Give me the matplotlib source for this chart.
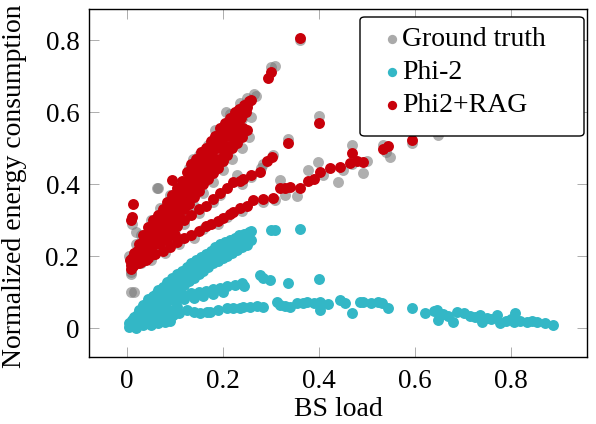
import numpy as np
import matplotlib
matplotlib.use("Agg")
import matplotlib.pyplot as plt
from matplotlib.patches import FancyBboxPatch

plt.rcParams['font.family'] = ['Liberation Serif', 'DejaVu Serif']

# ---- data (BS load, normalized energy) ----
ground_truth_pts = [
    # steep branch, upper side
    (0.005, 0.20), (0.02, 0.235), (0.03, 0.26), (0.05, 0.30), (0.0625, 0.389), (0.07, 0.335),
    (0.09, 0.37), (0.11, 0.40), (0.13, 0.445), (0.139, 0.47), (0.15, 0.48), (0.17, 0.51),
    (0.18, 0.523), (0.19, 0.54), (0.20, 0.56), (0.207, 0.60), (0.215, 0.595), (0.236, 0.625),
    (0.25, 0.64), (0.265, 0.65), (0.27, 0.645), (0.26, 0.588), (0.243, 0.542), (0.184, 0.551),
    # steep branch, lower side
    (0.008, 0.155), (0.01, 0.15), (0.03, 0.18), (0.05, 0.20), (0.07, 0.23), (0.085, 0.26),
    (0.10, 0.275), (0.12, 0.305), (0.14, 0.34), (0.16, 0.375), (0.18, 0.405), (0.20, 0.44),
    (0.22, 0.47), (0.24, 0.50), (0.255, 0.53),
    (0.04, 0.235), (0.08, 0.30), (0.12, 0.37), (0.16, 0.44), (0.20, 0.51), (0.24, 0.58),
    # outliers
    (0.008, 0.10), (0.016, 0.10), (0.02, 0.268), (0.012, 0.29), (0.066, 0.39),
    # middle branch
    (0.09, 0.26), (0.12, 0.29), (0.15, 0.32), (0.18, 0.35), (0.194, 0.37), (0.229, 0.426),
    (0.24, 0.40), (0.26, 0.42), (0.28, 0.445), (0.285, 0.455), (0.305, 0.48),
    # lower branch
    (0.05, 0.19), (0.08, 0.21), (0.11, 0.235), (0.14, 0.25), (0.16, 0.275), (0.19, 0.29),
    (0.21, 0.31), (0.24, 0.325), (0.285, 0.352), (0.31, 0.355), (0.33, 0.37), (0.354, 0.366),
    (0.319, 0.412), (0.378, 0.44), (0.399, 0.463), (0.41, 0.425), (0.441, 0.407), (0.45, 0.44),
    (0.469, 0.509), (0.47, 0.455), (0.493, 0.43), (0.50, 0.465), (0.535, 0.509), (0.549, 0.477),
    (0.54, 0.49), (0.595, 0.515), (0.649, 0.537),
    # isolated
    (0.337, 0.525), (0.40, 0.59), (0.362, 0.80), (0.30, 0.725), (0.31, 0.73),
]

phi2_pts = [
    # upper band
    (0.005, 0.015), (0.015, 0.03), (0.025, 0.05), (0.035, 0.065), (0.045, 0.08), (0.055, 0.09),
    (0.065, 0.105), (0.075, 0.115), (0.085, 0.128), (0.095, 0.14), (0.105, 0.15), (0.115, 0.16),
    (0.125, 0.17), (0.135, 0.18), (0.145, 0.19), (0.155, 0.198), (0.165, 0.207), (0.175, 0.215),
    (0.185, 0.225), (0.195, 0.233), (0.205, 0.24), (0.215, 0.245), (0.225, 0.252), (0.235, 0.258),
    (0.245, 0.262), (0.255, 0.266), (0.26, 0.27),
    (0.012, 0.022), (0.022, 0.038), (0.032, 0.055), (0.042, 0.07), (0.052, 0.082), (0.062, 0.095),
    (0.072, 0.107), (0.082, 0.118), (0.092, 0.13), (0.102, 0.14), (0.112, 0.15), (0.122, 0.16),
    (0.132, 0.17), (0.142, 0.18), (0.152, 0.19), (0.162, 0.198), (0.172, 0.207), (0.182, 0.215),
    (0.192, 0.222), (0.202, 0.23), (0.212, 0.235), (0.222, 0.24), (0.232, 0.245), (0.242, 0.25),
    (0.252, 0.255),
    (0.008, 0.01), (0.018, 0.022), (0.028, 0.035), (0.038, 0.048), (0.048, 0.06), (0.058, 0.07),
    (0.068, 0.082), (0.078, 0.092), (0.088, 0.103), (0.098, 0.115), (0.108, 0.125), (0.118, 0.135),
    (0.128, 0.145), (0.138, 0.155), (0.148, 0.165), (0.158, 0.173), (0.168, 0.182), (0.178, 0.19),
    (0.188, 0.198), (0.198, 0.205), (0.208, 0.212), (0.218, 0.218), (0.228, 0.225), (0.238, 0.232),
    (0.248, 0.24),
    (0.01, 0.005), (0.02, 0.012), (0.03, 0.02), (0.04, 0.028), (0.05, 0.036), (0.06, 0.045),
    (0.07, 0.055), (0.08, 0.068), (0.09, 0.08), (0.10, 0.095), (0.11, 0.108), (0.12, 0.12),
    (0.13, 0.13), (0.14, 0.14), (0.15, 0.15), (0.16, 0.16), (0.17, 0.17), (0.18, 0.18),
    (0.19, 0.188), (0.20, 0.195), (0.21, 0.202), (0.22, 0.21), (0.23, 0.217), (0.24, 0.225),
    (0.25, 0.232), (0.26, 0.245),
    (0.30, 0.273), (0.31, 0.273), (0.361, 0.275),
    # middle branch
    (0.06, 0.065), (0.075, 0.072), (0.09, 0.08), (0.105, 0.086), (0.12, 0.092), (0.135, 0.097),
    (0.15, 0.10), (0.165, 0.104), (0.18, 0.108), (0.195, 0.112), (0.21, 0.116), (0.225, 0.12),
    (0.24, 0.125), (0.245, 0.118), (0.10, 0.075), (0.12, 0.08), (0.14, 0.085), (0.16, 0.09),
    (0.18, 0.095), (0.20, 0.10), (0.278, 0.148), (0.285, 0.14), (0.299, 0.134), (0.337, 0.125),
    (0.401, 0.136),
    # flat branch
    (0.03, 0.015), (0.05, 0.02), (0.07, 0.027), (0.085, 0.03), (0.097, 0.037), (0.11, 0.042),
    (0.125, 0.051), (0.14, 0.045), (0.153, 0.042), (0.167, 0.046), (0.174, 0.045), (0.19, 0.05),
    (0.208, 0.056), (0.222, 0.055), (0.236, 0.056), (0.243, 0.06), (0.256, 0.058), (0.271, 0.062),
    (0.285, 0.06), (0.3125, 0.074), (0.319, 0.065), (0.33, 0.062), (0.34, 0.06), (0.354, 0.069),
    (0.368, 0.069), (0.375, 0.074), (0.39, 0.07), (0.403, 0.074), (0.403, 0.051), (0.42, 0.068),
    (0.444, 0.079), (0.455, 0.07), (0.469, 0.042), (0.486, 0.074), (0.493, 0.074), (0.51, 0.07),
    (0.524, 0.074), (0.531, 0.069), (0.545, 0.056), (0.594, 0.056), (0.621, 0.042), (0.64, 0.047),
    (0.646, 0.051), (0.649, 0.023), (0.66, 0.04), (0.67, 0.035), (0.68, 0.018), (0.6875, 0.046),
    (0.702, 0.042), (0.715, 0.035), (0.725, 0.03), (0.736, 0.037), (0.74, 0.018), (0.75, 0.028),
    (0.76, 0.025), (0.771, 0.037), (0.778, 0.014), (0.79, 0.02), (0.80, 0.025), (0.806, 0.018),
    (0.809, 0.042), (0.82, 0.02), (0.833, 0.018), (0.845, 0.02), (0.854, 0.018), (0.8715, 0.014),
    (0.889, 0.009),
    (0.005, 0.003), (0.02, 0.0), (0.035, 0.008), (0.05, 0.01), (0.065, 0.014), (0.08, 0.018),
    (0.09, 0.02), (0.04, 0.04), (0.06, 0.03), (0.075, 0.04), (0.09, 0.05), (0.105, 0.06),
]

phi2_rag_pts = [
    # steep branch
    (0.006, 0.19), (0.015, 0.21), (0.025, 0.235), (0.035, 0.26), (0.045, 0.28), (0.055, 0.30),
    (0.065, 0.315), (0.075, 0.33), (0.085, 0.35), (0.095, 0.37), (0.105, 0.39), (0.115, 0.41),
    (0.125, 0.435), (0.135, 0.455), (0.145, 0.47), (0.155, 0.49), (0.165, 0.50), (0.175, 0.52),
    (0.185, 0.535), (0.195, 0.555), (0.205, 0.57), (0.215, 0.585), (0.225, 0.60), (0.235, 0.61),
    (0.245, 0.62), (0.255, 0.63), (0.26, 0.635),
    (0.011, 0.195), (0.021, 0.215), (0.031, 0.237), (0.041, 0.257), (0.051, 0.277), (0.061, 0.293),
    (0.071, 0.31), (0.081, 0.327), (0.091, 0.345), (0.101, 0.362), (0.111, 0.382), (0.121, 0.40),
    (0.131, 0.42), (0.141, 0.438), (0.151, 0.458), (0.161, 0.472), (0.171, 0.49), (0.181, 0.507),
    (0.191, 0.525), (0.201, 0.542), (0.211, 0.56), (0.221, 0.575), (0.231, 0.59), (0.241, 0.605),
    (0.251, 0.615),
    (0.008, 0.175), (0.018, 0.19), (0.028, 0.21), (0.038, 0.23), (0.048, 0.25), (0.058, 0.265),
    (0.068, 0.285), (0.078, 0.30), (0.088, 0.32), (0.098, 0.335), (0.108, 0.355), (0.118, 0.375),
    (0.128, 0.39), (0.138, 0.41), (0.148, 0.43), (0.158, 0.445), (0.168, 0.465), (0.178, 0.48),
    (0.188, 0.50), (0.198, 0.515), (0.208, 0.535), (0.218, 0.55), (0.228, 0.565), (0.238, 0.585),
    (0.248, 0.60),
    (0.013, 0.172), (0.023, 0.19), (0.033, 0.205), (0.043, 0.222), (0.053, 0.24), (0.063, 0.255),
    (0.073, 0.27), (0.083, 0.285), (0.093, 0.30), (0.103, 0.317), (0.113, 0.335), (0.123, 0.352),
    (0.133, 0.37), (0.143, 0.39), (0.153, 0.405), (0.163, 0.425), (0.173, 0.44), (0.183, 0.455),
    (0.193, 0.47), (0.203, 0.49), (0.213, 0.507), (0.223, 0.525), (0.233, 0.54), (0.243, 0.555),
    (0.01, 0.165), (0.02, 0.18), (0.03, 0.195), (0.04, 0.21), (0.05, 0.225), (0.06, 0.24),
    (0.07, 0.25), (0.08, 0.265), (0.09, 0.28), (0.10, 0.295), (0.11, 0.31), (0.12, 0.33),
    (0.13, 0.345), (0.14, 0.365), (0.15, 0.38), (0.16, 0.40), (0.17, 0.415), (0.18, 0.43),
    (0.19, 0.445), (0.20, 0.465), (0.21, 0.48), (0.22, 0.50), (0.23, 0.515), (0.24, 0.53),
    (0.25, 0.55),
    (0.025, 0.18), (0.04, 0.19), (0.055, 0.205), (0.07, 0.235), (0.085, 0.245), (0.10, 0.26),
    # middle branch
    (0.06, 0.235), (0.075, 0.25), (0.09, 0.265), (0.104, 0.285), (0.12, 0.30), (0.135, 0.315),
    (0.15, 0.33), (0.165, 0.34), (0.18, 0.36), (0.194, 0.375), (0.208, 0.39), (0.222, 0.405),
    (0.236, 0.41), (0.243, 0.415), (0.26, 0.425), (0.278, 0.435), (0.292, 0.465), (0.302, 0.477),
    # lower branch
    (0.03, 0.185), (0.045, 0.195), (0.06, 0.205), (0.075, 0.215), (0.09, 0.225), (0.105, 0.24),
    (0.12, 0.25), (0.135, 0.26), (0.15, 0.27), (0.165, 0.283), (0.175, 0.29), (0.19, 0.298),
    (0.201, 0.306), (0.215, 0.318), (0.222, 0.324), (0.236, 0.335), (0.25, 0.34), (0.264, 0.355),
    (0.285, 0.36), (0.305, 0.363), (0.319, 0.39), (0.33, 0.39), (0.34, 0.392), (0.361, 0.389),
    (0.378, 0.41), (0.39, 0.415), (0.403, 0.435), (0.424, 0.444), (0.444, 0.449), (0.465, 0.458),
    (0.469, 0.486), (0.48, 0.465), (0.493, 0.463), (0.535, 0.497), (0.545, 0.505), (0.594, 0.523),
    # isolated
    (0.01, 0.30), (0.012, 0.31), (0.014, 0.345), (0.094, 0.412), (0.295, 0.695), (0.30, 0.712),
    (0.361, 0.806), (0.401, 0.571), (0.337, 0.514),
]

gt = np.array(ground_truth_pts)
phi2 = np.array(phi2_pts)
rag = np.array(phi2_rag_pts)

fig = plt.figure(figsize=(5.96, 4.24), dpi=100)
ax = fig.add_axes([89 / 596, 1 - 357 / 424, 498 / 596, 348 / 424])

ms = 62
ax.scatter(gt[:, 0], gt[:, 1], s=ms, c='#7a7a7a', alpha=0.6, linewidths=0, label='Ground truth', zorder=2)
ax.scatter(phi2[:, 0], phi2[:, 1], s=ms, c='#33b7c6', linewidths=0, label='Phi-2', zorder=3)
ax.scatter(rag[:, 0], rag[:, 1], s=ms, c='#c8000a', linewidths=0, label='Phi2+RAG', zorder=4)

ax.set_xlim(-0.0785, 0.959)
ax.set_ylim(-0.08, 0.887)
ax.set_xticks([0, 0.2, 0.4, 0.6, 0.8])
ax.set_xticklabels(['0', '0.2', '0.4', '0.6', '0.8'])
ax.set_yticks([0, 0.2, 0.4, 0.6, 0.8])
ax.set_yticklabels(['0', '0.2', '0.4', '0.6', '0.8'])
ax.tick_params(direction='in', top=True, right=True, length=7.5, width=0.6,
               color='#a0a0a0', labelsize=19.5, pad=7)
ax.tick_params(axis='x', pad=8.5)
for sp in ax.spines.values():
    sp.set_linewidth(1.0)

ax.set_xlabel('BS load', fontsize=20)
ax.xaxis.set_label_coords(0.5, (357 - 416) / 348)
ax.xaxis.label.set_va('baseline')
fig.text(27 / 596, 1 - 368 / 424, 'Normalized energy consumption', rotation=90,
         rotation_mode='anchor', ha='left', va='bottom', fontsize=20)

# legend frame drawn separately (pgfplots-style wide box)
frame = FancyBboxPatch((360 / 596, 1 - 136 / 424), 224 / 596, 119 / 424,
                       boxstyle='round,pad=0,rounding_size=0.008', transform=fig.transFigure,
                       fc='white', ec='black', lw=1.0, zorder=10)
ax.add_artist(frame)
frame.set_clip_on(False)

leg = ax.legend(loc='upper left', bbox_to_anchor=((384 - 89) / 498, (357 - 27) / 348),
                borderaxespad=0, borderpad=0, frameon=False, fontsize=20,
                handlelength=0.6, handletextpad=0.05, labelspacing=0.27, markerscale=0.85)
leg.set_zorder(11)
for h in leg.legend_handles:
    h.set_alpha(1)
leg.legend_handles[0].set_color('#aaaaaa')

fig.savefig('out.png', dpi=100)
